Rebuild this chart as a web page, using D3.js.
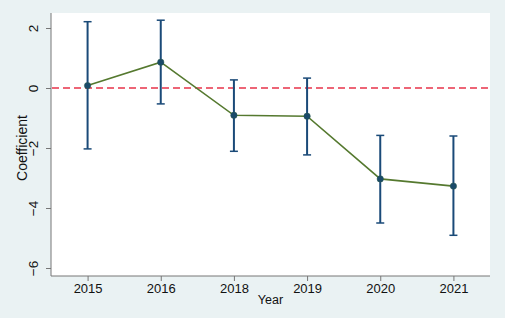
<!DOCTYPE html>
<html><head><meta charset="utf-8">
<script src="https://cdn.jsdelivr.net/npm/d3@7"></script>
<style>body{margin:0;background:#eaf2f3;}svg{display:block;}</style>
</head><body>
<svg id="c" width="505" height="318"></svg>
<script>
const years = ["2015","2016","2018","2019","2020","2021"];
const coef  = [0.08, 0.86, -0.91, -0.94, -3.03, -3.27];
const lower = [-2.03, -0.53, -2.11, -2.23, -4.50, -4.91];
const upper = [2.21, 2.26, 0.27, 0.33, -1.58, -1.60];
const yTicks = [2, 0, -2, -4, -6];

const svg = d3.select("#c");
const W = 505, H = 318;
const plot = {left: 51, right: 490, top: 13, bottom: 276};

svg.append("rect").attr("width", W).attr("height", H).attr("fill", "#eaf2f3");
svg.append("rect").attr("x", plot.left).attr("y", plot.top)
  .attr("width", plot.right - plot.left).attr("height", plot.bottom - plot.top).attr("fill", "#ffffff");

const x = d3.scalePoint().domain(years).range([plot.left, plot.right]).padding(0.5);
const y = d3.scaleLinear().domain([-6, 2]).range([268, 28]);

const font = "'Liberation Sans', Arial, sans-serif";

// axes
const yAxis = svg.append("g").attr("transform", `translate(${plot.left},0)`)
  .call(d3.axisLeft(y).tickValues(yTicks).tickSize(5).tickPadding(4).tickFormat(d3.format("d")));
yAxis.select(".domain").remove();
yAxis.selectAll(".tick line").attr("stroke", "#777");
yAxis.selectAll(".tick text")
  .attr("font-family", font).attr("font-size", 13.5).attr("fill", "#111")
  .attr("x", null).attr("dy", null)
  .attr("transform", "translate(-13.5,0) rotate(-90)")
  .attr("text-anchor", "middle").attr("dominant-baseline", "auto");
svg.append("line").attr("x1", plot.left).attr("x2", plot.left)
  .attr("y1", plot.top).attr("y2", plot.bottom).attr("stroke", "#777").attr("stroke-width", 1);

const xAxis = svg.append("g").attr("transform", `translate(0,${plot.bottom})`)
  .call(d3.axisBottom(x).tickSize(5).tickPadding(3));
xAxis.select(".domain").remove();
xAxis.selectAll(".tick line").attr("stroke", "#777");
xAxis.selectAll(".tick text").attr("font-family", font).attr("font-size", 13).attr("fill", "#111");
svg.append("line").attr("x1", plot.left).attr("x2", plot.right)
  .attr("y1", plot.bottom).attr("y2", plot.bottom).attr("stroke", "#777").attr("stroke-width", 1);

svg.append("text").attr("x", (plot.left + plot.right) / 2).attr("y", 303.5)
  .attr("text-anchor", "middle").attr("font-family", font).attr("font-size", 12.5).attr("fill", "#111").text("Year");
svg.append("text").attr("transform", `translate(26.5,148) rotate(-90)`)
  .attr("text-anchor", "middle").attr("font-family", font).attr("font-size", 14).attr("fill", "#111").text("Coefficient");

// zero line
svg.append("line").attr("x1", plot.left + 1).attr("x2", plot.right)
  .attr("y1", y(0)).attr("y2", y(0))
  .attr("stroke", "#e8334a").attr("stroke-width", 1.3).attr("stroke-dasharray", "7,4");

// error bars
const navy = "#1a4a78";
const g = svg.append("g");
years.forEach((yr, i) => {
  const cx = x(yr);
  g.append("line").attr("x1", cx).attr("x2", cx).attr("y1", y(lower[i])).attr("y2", y(upper[i]))
    .attr("stroke", navy).attr("stroke-width", 2);
  [lower[i], upper[i]].forEach(v => {
    g.append("line").attr("x1", cx - 4).attr("x2", cx + 4).attr("y1", y(v)).attr("y2", y(v))
      .attr("stroke", navy).attr("stroke-width", 1.5);
  });
});

// line
svg.append("path").datum(coef.map((v, i) => [x(years[i]), y(v)]))
  .attr("d", d3.line()).attr("fill", "none").attr("stroke", "#55792f").attr("stroke-width", 1.6);

svg.selectAll("circle.pt").data(coef).enter().append("circle")
  .attr("cx", (d, i) => x(years[i])).attr("cy", d => y(d)).attr("r", 3.2)
  .attr("fill", "#1a4a6a").attr("stroke", "#2a5a4a").attr("stroke-width", 0.5);
</script>
</body></html>
